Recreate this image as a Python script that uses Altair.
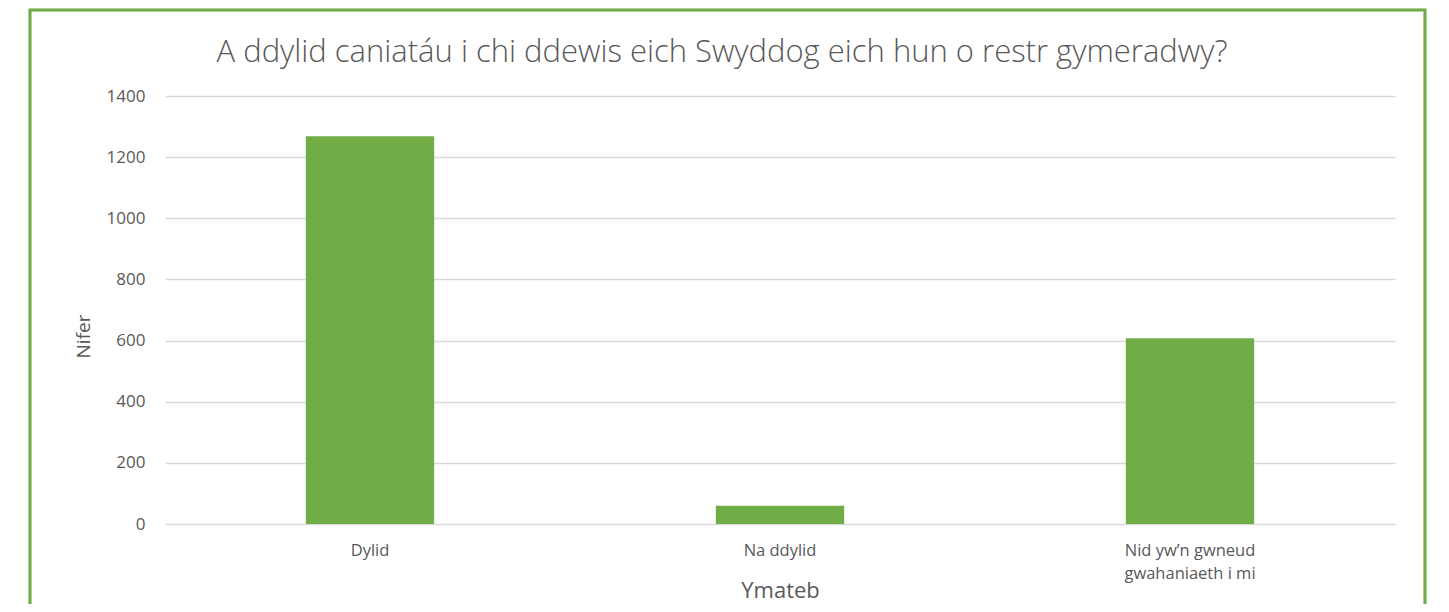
import altair as alt
import pandas as pd

categories = ["Dylid", "Na ddylid", "Nid yw\u2019n gwneud\ngwahaniaeth i mi"]
values = [1268, 60, 608]
y_ticks = [0, 200, 400, 600, 800, 1000, 1200, 1400]
title_text = "A ddylid caniatáu i chi ddewis eich Swyddog eich hun o restr gymeradwy?"

df = pd.DataFrame({"Ymateb": categories, "Nifer": values})
title_df = pd.DataFrame({"t": [title_text]})

FONT = "Open Sans"
GREEN = "#70AD47"
TEXT = "#595959"

bars = alt.Chart(df).mark_bar(color=GREEN).encode(
    x=alt.X(
        "Ymateb:N",
        sort=categories,
        scale=alt.Scale(paddingInner=0.687, paddingOuter=0.3435),
        axis=alt.Axis(
            title="Ymateb",
            labelAngle=0,
            labelExpr="split(datum.label, '\\n')",
            labelFont=FONT,
            labelFontSize=16.5,
            labelColor=TEXT,
            labelPadding=18,
            labelLineHeight=23,
            ticks=False,
            domain=False,
            titleFont=FONT,
            titleFontSize=22,
            titleFontWeight="normal",
            titleColor=TEXT,
            titleBaseline="alphabetic",
            titleY=73,
        ),
    ),
    y=alt.Y(
        "Nifer:Q",
        scale=alt.Scale(domain=[0, 1400], nice=False),
        axis=alt.Axis(
            title="Nifer",
            values=y_ticks,
            format="d",
            labelFont=FONT,
            labelFontSize=17,
            labelColor=TEXT,
            labelPadding=20,
            ticks=False,
            domain=False,
            grid=True,
            gridColor="#D9D9D9",
            gridWidth=1.3,
            titleFont=FONT,
            titleFontSize=19,
            titleFontWeight="normal",
            titleColor=TEXT,
            titlePadding=13,
            titleY=240,
        ),
    ),
)

border = alt.Chart(df).mark_rect(
    filled=False, stroke=GREEN, strokeWidth=2.5, clip=False
).encode(
    x=alt.value(-135),
    x2=alt.value(1260),
    y=alt.value(-86),
    y2=alt.value(700),
)

title = alt.Chart(title_df).mark_text(
    font=FONT, fontSize=31, fontWeight=300, color=TEXT,
    align="center", baseline="middle",
).encode(
    text="t:N",
    x=alt.value(557),
    y=alt.value(-43),
)

chart = alt.layer(border, bars, title).properties(
    width=1230,
    height=428,
    autosize=alt.AutoSizeParams(type="none"),
    padding={"left": 157, "top": 88, "right": 36, "bottom": 80},
).configure_view(stroke=None)

chart.save("out.html", embed_options={"renderer": "svg", "actions": False})
